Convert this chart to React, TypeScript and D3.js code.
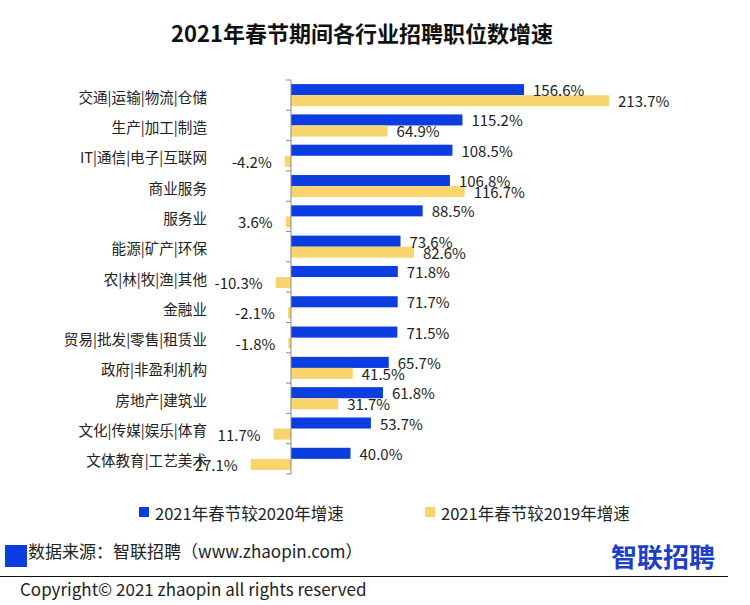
import React from "react";
import * as d3 from "d3";

const categories = [
  "交通|运输|物流|仓储",
  "生产|加工|制造",
  "IT|通信|电子|互联网",
  "商业服务",
  "服务业",
  "能源|矿产|环保",
  "农|林|牧|渔|其他",
  "金融业",
  "贸易|批发|零售|租赁业",
  "政府|非盈利机构",
  "房地产|建筑业",
  "文化|传媒|娱乐|体育",
  "文体教育|工艺美术",
];
const growth2020 = [156.6, 115.2, 108.5, 106.8, 88.5, 73.6, 71.8, 71.7, 71.5, 65.7, 61.8, 53.7, 40.0];
const growth2019 = [213.7, 64.9, -4.2, 116.7, -3.6, 82.6, -10.3, -2.1, -1.8, 41.5, 31.7, -11.7, -27.1];
const labels2020 = ["156.6%", "115.2%", "108.5%", "106.8%", "88.5%", "73.6%", "71.8%", "71.7%", "71.5%", "65.7%", "61.8%", "53.7%", "40.0%"];
const labels2019 = ["213.7%", "64.9%", "-4.2%", "116.7%", "3.6%", "82.6%", "-10.3%", "-2.1%", "-1.8%", "41.5%", "31.7%", "11.7%", "27.1%"];
const seriesNames = ["2021年春节较2020年增速", "2021年春节较2019年增速"];
const title = "2021年春节期间各行业招聘职位数增速";
const sourceText = "数据来源：智联招聘（www.zhaopin.com）";
const copyrightText = "Copyright© 2021 zhaopin all rights reserved";
const logoText = "智联招聘";

const W = 750;
const H = 605;
const BLUE = "#0b3de0";
const YELLOW = "#f8d56c";
const FONT = "'Noto Sans CJK SC', 'Noto Sans', sans-serif";

export default function App() {
  const x = d3.scaleLinear().domain([-50, 250]).range([291 - 74.4, 291 + 372]);
  const y = d3.scaleBand<string>().domain(categories).range([80, 474]).padding(0);
  const inner = d3
    .scaleBand<string>()
    .domain(["a", "b"])
    .range([0, y.step()])
    .paddingInner(0)
    .paddingOuter(0.37);
  const x0 = x(0);
  const series = [
    { key: "a", values: growth2020, labels: labels2020, color: BLUE },
    { key: "b", values: growth2019, labels: labels2019, color: YELLOW },
  ];
  const ticks = [...categories.map((c) => y(c) as number), 474];

  return (
    <svg
      width={W}
      height={H}
      style={{ position: "absolute", left: 0, top: 0, background: "#fff" }}
      fontFamily={FONT}
    >
      <rect x={0} y={0} width={W} height={H} fill="#fff" />
      <text x={362} y={32} textAnchor="middle" dominantBaseline="central" fontSize={22} fontWeight="bold" fill="#111">
        {title}
      </text>

      {/* bars */}
      {series.map((s) =>
        s.values.map((v, i) => {
          const by = (y(categories[i]) as number) + (inner(s.key) as number);
          const bh = inner.bandwidth();
          const xs = Math.min(x(v), x0);
          const w = Math.abs(x(v) - x0);
          return <rect key={s.key + i} x={xs} y={by} width={w} height={bh} fill={s.color} />;
        })
      )}

      {/* axis */}
      <line x1={x0} x2={x0} y1={80} y2={474} stroke="#8a8a8a" strokeWidth={1} />
      {ticks.map((t, i) => (
        <line key={i} x1={x0 - 5} x2={x0} y1={t} y2={t} stroke="#8a8a8a" strokeWidth={1} />
      ))}

      {/* category labels */}
      {categories.map((c) => (
        <text
          key={c}
          x={207}
          y={(y(c) as number) + y.step() / 2 + 1}
          textAnchor="end"
          dominantBaseline="central"
          fontSize={14.6}
          fill="#222"
        >
          {c}
        </text>
      ))}

      {/* value labels */}
      {series.map((s) =>
        s.values.map((v, i) => {
          const cy = (y(categories[i]) as number) + (inner(s.key) as number) + inner.bandwidth() / 2;
          const pos = v >= 0;
          return (
            <text
              key={"l" + s.key + i}
              x={pos ? x(v) + 9 : x(v) - 13}
              y={cy}
              textAnchor={pos ? "start" : "end"}
              dominantBaseline="central"
              fontSize={15}
              fill="#222"
            >
              {s.labels[i]}
            </text>
          );
        })
      )}

      {/* legend */}
      {series.map((s, i) => {
        const lx = i === 0 ? 139 : 425;
        return (
          <g key={"lg" + i}>
            <rect x={lx} y={507} width={10} height={10} fill={s.color} />
            <text x={lx + 16} y={513} dominantBaseline="central" fontSize={16.5} fill="#222">
              {seriesNames[i]}
            </text>
          </g>
        );
      })}

      {/* footer */}
      <rect x={5} y={545} width={22} height={22} fill={BLUE} />
      <text x={28} y={550} dominantBaseline="central" fontSize={17} fill="#222">
        {sourceText}
      </text>
      <text x={611} y={555} dominantBaseline="central" fontSize={26} fontWeight="bold" fill="#1c3fc8">
        {logoText}
      </text>
      <line x1={0} x2={728} y1={576.5} y2={576.5} stroke="#111" strokeWidth={1} />
      <text x={20} y={588} dominantBaseline="central" fontSize={17} fill="#222">
        {copyrightText}
      </text>
    </svg>
  );
}
